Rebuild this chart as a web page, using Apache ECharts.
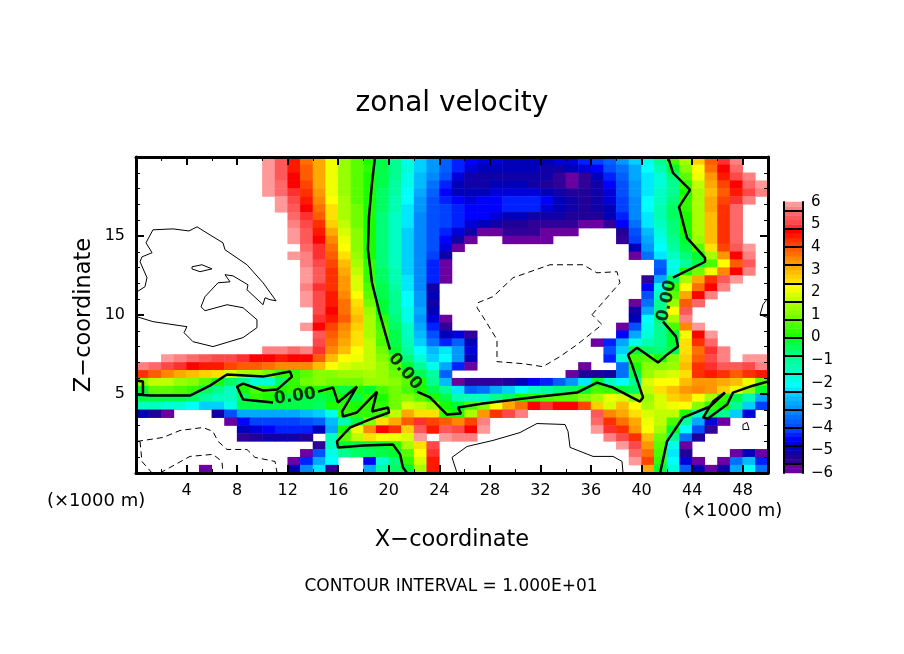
<!DOCTYPE html>
<html>
<head>
<meta charset="utf-8">
<title>zonal velocity</title>
<style>html,body{margin:0;padding:0;background:#fff}#main{width:904px;height:654px}</style>
<script src="https://cdn.jsdelivr.net/npm/echarts@6/dist/echarts.min.js"></script>
</head>
<body>
<div id="main"></div>
<script>
// cell columns (x, km) and rows (z, km, bottom edge of each cell)
var xCells = [0,1,2,3,4,5,6,7,8,9,10,11,12,13,14,15,16,17,18,19,20,21,22,23,24,25,26,27,28,29,30,31,32,33,34,35,36,37,38,39,40,41,42,43,44,45,46,47,48,49];
var zCells = [19.5,19,18.5,18,17.5,17,16.5,16,15.5,15,14.5,14,13.5,13,12.5,12,11.5,11,10.5,10,9.5,9,8.5,8,7.5,7,6.5,6,5.5,5,4.5,4,3.5,3,2.5,2,1.5,1,0.5,0];

// zonal velocity, top row first. 9 / -9 = outside the colour scale (left white)
var uRows = [
[9,9,9,9,9,9,9,9,9,9, 5.8,5.2,4.4,3.7,3,2.1,1.3,.7,.1,-.4, -1,-1.9,-2.6,-3.2,-3.8,-4.3,-4.5,-4.8,-4.8,-4.9, -4.9,-4.9,-4.9,-4.8,-4.7,-4.4,-4.1,-3.7,-3.2,-2.6, -2,-.9,.4,1.5,2.6,3.8,4.8,5.7,9,9],
[9,9,9,9,9,9,9,9,9,9, 5.9,5.3,4.5,3.8,3.1,2.1,1.3,.7,.2,-.3, -.9,-1.8,-2.6,-3.2,-3.8,-4.4,-4.7,-4.9,-5,-5, -5,-5,-5.1,-5.1,-5,-4.8,-4.5,-4,-3.5,-2.9, -2.2,-1.3,-.1,1,2.3,3.6,4.6,5.4,9,9],
[9,9,9,9,9,9,9,9,9,9, 5.9,5.3,4.6,3.9,3,2,1.3,.7,.1,-.4, -1,-1.9,-2.7,-3.3,-4,-4.7,-5.1,-5.2,-5.2,-5.2, -5.2,-5.1,-5.2,-5.6,-5.7,-5.5,-5,-4.4,-3.7,-3, -2.4,-1.7,-.7,.7,2,3.3,4.4,5,5.7,9],
[9,9,9,9,9,9,9,9,9,9, 5.9,5.4,4.7,4,3,2,1.3,.7,.1,-.4, -1.1,-2,-2.8,-3.5,-4.3,-4.9,-5.1,-5.1,-5,-5, -5,-5.1,-5.3,-5.6,-5.7,-5.6,-5.2,-4.6,-3.9,-3.1, -2.4,-1.7,-.9,.3,1.7,3,4,4.7,5.4,5.9],
[9,9,9,9,9,9,9,9,9,9, 5.9,5.5,4.9,4.2,3.2,2.1,1.3,.7,.1,-.5, -1.2,-2.1,-3,-3.8,-4.5,-4.9,-5,-4.9,-4.8,-4.7, -4.7,-4.8,-5,-5.2,-5.3,-5.4,-5.2,-4.7,-4,-3.2, -2.3,-1.6,-.9,.1,1.4,2.8,3.9,4.5,5,5.6],
[9,9,9,9,9,9,9,9,9,9, 9,5.8,5,4.4,3.4,2.3,1.4,.7,.1,-.6, -1.3,-2.2,-3.1,-3.9,-4.3,-4.5,-4.7,-4.6,-4.5,-4.4, -4.3,-4.3,-4.6,-5,-5.2,-5.4,-5.2,-4.8,-4.1,-3.3, -2.2,-1.5,-.7,.2,1.5,3,4.1,4.9,5.7,9],
[9,9,9,9,9,9,9,9,9,9, 9,5.9,5.2,4.6,3.7,2.5,1.5,.8,.1,-.6, -1.4,-2.3,-3.2,-3.9,-4.2,-4.3,-4.5,-4.5,-4.5,-4.3, -4.3,-4.4,-4.7,-5,-5.2,-5.3,-5.2,-4.9,-4.2,-3.3, -2.2,-1.4,-.6,.2,1.5,3,4.3,5.4,9,9],
[9,9,9,9,9,9,9,9,9,9, 9,9,5.5,4.8,3.9,2.4,1.5,.8,.1,-.7, -1.5,-2.4,-3.3,-3.9,-4.1,-4.3,-4.5,-4.6,-4.8,-4.9, -5,-5.1,-5.1,-5.2,-5.3,-5.4,-5.4,-5,-4.3,-3.4, -2.3,-1.4,-.6,.1,1.4,2.8,4.3,5.5,9,9],
[9,9,9,9,9,9,9,9,9,9, 9,9,5.7,5,4.2,2.7,1.6,.9,.1,-.7, -1.5,-2.4,-3.3,-3.9,-4.2,-4.4,-4.7,-4.9,-5.2,-5.3, -5.4,-5.5,-5.5,-5.5,-5.5,-5.7,-5.8,-5.6,-4.6,-3.6, -2.4,-1.5,-.7,.1,1.4,2.8,4.2,5.4,9,9],
[9,9,9,9,9,9,9,9,9,9, 9,9,5.9,5.2,4.4,3.1,1.9,1,.1,-.7, -1.5,-2.5,-3.3,-3.9,-4.3,-4.7,-5.2,-5.8,-5.9,-5.6, -5.6,-5.6,-5.8,-5.9,-5.9,-9,-9,-9,-5.3,-4, -2.7,-1.7,-.8,.1,1.4,2.9,4.3,5.5,9,9],
[9,9,9,9,9,9,9,9,9,9, 9,9,5.9,5.3,4.6,3.4,2.1,1,.1,-.7, -1.5,-2.6,-3.4,-4,-4.6,-5.1,-5.8,-9,-9,-5.9, -5.8,-5.8,-5.9,-9,-9,-9,-9,-9,-5.5,-4.2, -2.9,-1.9,-1,-.1,1.2,2.8,4.3,5.5,9,9],
[9,9,9,9,9,9,9,9,9,9, 9,9,9,5.5,4.8,3.7,2.3,1.1,.1,-.7, -1.5,-2.6,-3.4,-4,-4.8,-5.7,-9,-9,-9,-9, -9,-9,-9,-9,-9,-9,-9,-9,-9,-5, -3.2,-2.1,-1.2,-.4,.7,2.4,4,5.3,5.9,9],
[9,9,9,9,9,9,9,9,9,9, 9,9,5.9,5.6,4.8,3.9,2.5,1.2,.1,-.7, -1.5,-2.6,-3.4,-4.1,-5.2,-9,-9,-9,-9,-9, -9,-9,-9,-9,-9,-9,-9,-9,-9,-5.8, -3.6,-2.4,-1.5,-.8,-.1,1.5,3.3,4.7,5.6,9],
[9,9,9,9,9,9,9,9,9,9, 9,9,9,5.7,5,4.1,2.8,1.4,.2,-.7, -1.5,-2.6,-3.4,-4.3,-5.7,-9,-9,-9,-9,-9, -9,-9,-9,-9,-9,-9,-9,-9,-9,-9, -9,-3.8,-2,-1.2,-.4,.5,2.2,3.9,5.3,9],
[9,9,9,9,9,9,9,9,9,9, 9,9,9,5.9,5.2,4.2,3,1.6,.3,-.6, -1.4,-2.5,-3.4,-4.3,-5.9,-9,-9,-9,-9,-9, -9,-9,-9,-9,-9,-9,-9,-9,-9,-9, -9,-3.9,-1.7,0,.8,2,3.4,4.7,5.7,9],
[9,9,9,9,9,9,9,9,9,9, 9,9,9,5.9,5.3,4.3,3.2,1.8,.3,-.5, -1.3,-2.4,-3.3,-4.4,-5.9,-9,-9,-9,-9,-9, -9,-9,-9,-9,-9,-9,-9,-9,-9,-9, -5.5,-2.9,-.6,1.5,3,4.2,5.2,5.9,9,9],
[9,9,9,9,9,9,9,9,9,9, 9,9,9,5.7,4.9,4.2,3.3,1.9,.4,-.4, -1.2,-2.3,-3.3,-5.2,-9,-9,-9,-9,-9,-9, -9,-9,-9,-9,-9,-9,-9,-9,-9,-9, -4.5,-2,.3,2.3,3.6,4.7,5.7,9,9,9],
[9,9,9,9,9,9,9,9,9,9, 9,9,9,5.8,5,4.4,3.5,2.2,.6,-.3, -1,-2.2,-3.2,-5,-9,-9,-9,-9,-9,-9, -9,-9,-9,-9,-9,-9,-9,-9,-9,-9, -4,-1.5,.6,3,4.6,5.7,9,9,9,9],
[9,9,9,9,9,9,9,9,9,9, 9,9,9,5.9,5,4.5,3.7,2.4,.9,-.2, -1,-2.1,-3.1,-5.2,-9,-9,-9,-9,-9,-9, -9,-9,-9,-9,-9,-9,-9,-9,-9,-5.8, -3.5,-1,1.2,3.9,5.5,9,9,9,9,9],
[9,9,9,9,9,9,9,9,9,9, 9,9,9,9,5,4.6,3.7,2.7,1.2,-.1, -.9,-2,-3,-5,-9,-9,-9,-9,-9,-9, -9,-9,-9,-9,-9,-9,-9,-9,-9,-5.2, -3,-.9,2.2,5.2,9,9,9,9,9,9],
[9,9,9,9,9,9,9,9,9,9, 9,9,9,9,4.8,4.4,3.8,2.8,1.4,.2, -.7,-1.9,-3.1,-4.8,-5.9,-9,-9,-9,-9,-9, -9,-9,-9,-9,-9,-9,-9,-9,-9,-5, -2.2,-.8,1.5,5.6,9,9,9,9,9,9],
[9,9,9,9,9,9,9,9,9,9, 9,9,9,5.9,4.6,4.1,3.5,2.7,1.4,.5, -.5,-1.6,-2.9,-4.4,-5.5,-9,-9,-9,-9,-9, -9,-9,-9,-9,-9,-9,-9,-9,-5.9,-4, -2,-.9,.5,3.5,5.9,9,9,9,9,9],
[9,9,9,9,9,9,9,9,9,9, 9,9,9,9,5.2,3.9,3.2,2.5,1.5,.7, -.4,-1.5,-2.7,-4,-5,-4.8,-5.5,-9,-9,-9, -9,-9,-9,-9,-9,-9,-9,-9,-4.5,-3, -1.8,-1,-.1,2,4.6,5.9,9,9,9,9],
[9,9,9,9,9,9,9,9,9,9, 9,9,9,9,5,3.7,3,2.4,1.6,.4, -.4,-1.4,-2.5,-3.6,-4.3,-3.8,-5,-9,-9,-9, -9,-9,-9,-9,-9,-9,-5.9,-4.3,-3,-2, -1.4,-.9,-.1,2.4,4.2,5.5,9,9,9,9],
[9,9,9,9,9,9,9,9,9,9, 5.7,5.6,5.4,5.6,4.8,3.5,2.8,2.3,1.6,.9, -.1,-1.2,-2.2,-2.8,-2.4,-3.2,-4.8,-9,-9,-9, -9,-9,-9,-9,-9,-9,-9,-4,-2.5,-.1, -.6,-.7,-.3,2.4,3.7,4.8,5.7,9,9,9],
[9,9,5.9,5.6,5.5,5.2,5,5,4.8,4.6, 4.6,4.5,4.6,4.7,3.8,2.9,2.3,2,1.6,1, .4,-.7,-1.8,-2.6,-2.2,-3.2,-4.9,-9,-9,-9, -9,-9,-9,-9,-9,-9,-9,-4.3,-1.8,.4, .7,.1,1,2.7,3.9,5,5.7,9,5.8,5.8],
[5.7,5.4,5,4.9,4.7,4.5,4.4,4.1,3.9,3.8, 3.7,3.5,3.5,3.4,2.9,2.3,1.9,1.7,1.6,1.2, .6,-.2,-1,-1.9,-3,-4.4,-5.7,-9,-9,-9, -9,-9,-9,-9,-9,-5.9,-9,-9,-3.5,0, 1,1,1.3,2.8,4.2,4.8,5.2,5.2,5,5.6],
[4.2,3.8,3.4,3.1,2.9,2.7,2.4,1.9,1.5,1.2, .8,.3,.2,.6,1,1.1,1.2,1.2,1.4,1.3, .9,.2,-.4,-1.2,-3.8,-9,-9,-9,-9,-9, -9,-9,-9,-9,-5.8,-5.4,-5.3,-5.2,-3.5,-.3, 1.3,1.6,1.9,2.5,4.3,4.5,4.3,3.8,4.2,4.4],
[1,1.7,1.6,1.3,1,.6,.1,-.5,-.9,-1.8, -1.7,-.5,.3,.8,1,.9,.8,.9,1.2,1.3, 1.1,.7,.1,-1,-2.8,-5.9,-5.5,-5.5,-5.5,-5.3, -5,-4.6,-4.3,-3.8,-3.2,-2.3,-.2,-1.5,-2.2,-1, 1.8,2.2,2.3,2.8,3.2,3.3,3,2.8,2,.6],
[-.1,.6,.6,.4,.2,-.5,-1,-1.5,.1,.4, .3,0,.2,0,0,.1,-.3,.1,-.2,.5, .9,.5,.1,-.4,-1,-2.4,-3.7,-3.5,-3,-2.6, -2.2,-1.6,-1.2,-.8,-.5,-.1,.4,.3,-.2,-.6, 1.6,2.4,2.8,3.2,3.4,3.2,2.6,2,1,-.1],
[-.3,-.4,-.3,-.4,-.6,-1.2,-1.5,-1.6,-.5,.2, .1,-.2,-.3,-.4,-.3,-.1,.1,-.3,.2,.1, .9,1,.7,.1,-.3,-1.3,-1.5,-1.5,-1,-.5, .1,.3,.5,.6,.7,1,1.4,2,1.8,1, 1.2,1.9,2.7,2.8,2.3,1.4,.2,-.3,-1.3,-3],
[-1.5,-1.6,-1.7,-1.8,-2.2,-2.6,-2.5,-2,-.4,-.3, -.4,-.3,-.3,-.4,-.6,.1,.3,0,.2,.3, .9,1.9,1.7,1.3,0,-.1,.5,1,2.2,3, 3.7,4.7,4.8,4.6,4.6,4,2.7,1.9,2.8,2.3, 1.5,1.8,2.1,2.2,1,.3,.1,-1,-2.6,-4.2],
[-4.9,-5.4,-5.9,-9,-9,-9,-5.2,-4,-2.9,-2.9, -3,-3,-2.9,-2.8,-2.6,-2,.2,.3,.2,.5, 1.7,3.1,2.5,2.4,.2,0,1.5,3.2,4.2,5, 5.6,9,9,9,9,9,5.2,3.5,3,2.4, 1.9,1.7,1.6,.1,-1.5,-.3,-1,-2.5,-4.8,-9],
[-9,-9,-9,-9,-9,-9,-9,-5.8,-4.5,-4.2, -4.1,-4.1,-4.1,-4,-3.7,-2.8,-1.3,-.4,1,2.4, 3.1,3.8,4.9,4.1,3.9,3.5,4,5.7,9,9, 9,9,9,9,9,9,5.5,4.3,3.7,3, 2.1,1.7,.5,-1.2,-3,-4.8,-5.9,-9,-9,-9],
[-9,-9,-9,-9,-9,-9,-9,-9,-5,-4.7, -4.6,-4.4,-4.4,-4.4,-5,-2.9,.1,2,3.5,4.7, 4.2,2.7,5.3,4.5,5.3,5,4.7,5.9,9,9, 9,9,9,9,9,9,5.9,4.9,4.2,3.2, 2.2,1.4,-.1,-2.2,-4,-5.6,-9,-9,-9,-9],
[-9,-9,-9,-9,-9,-9,-9,-9,-5.5,-5.4, -5.2,-5.1,-5.1,-5.3,-9,-1.5,.7,1.6,2.4,2.2, 2.1,1.9,5.8,9,5.9,5.6,5.7,9,9,9, 9,9,9,9,9,9,9,5.6,5,4.3, 2.8,.9,-1,-3.5,-5.3,-9,-9,-9,-9,-9],
[-9,-9,-9,-9,-9,-9,-9,-9,-9,-9, -9,-9,-9,-9,-5.5,-1.5,-.2,-.3,-.2,-.2, .2,1.5,2.5,5,9,9,9,9,9,9, 9,9,9,9,9,9,9,9,5.9,5, 3.2,.7,-1.9,-5.8,-9,-9,-9,-9,-9,-9],
[-9,-9,-9,-9,-9,-9,-9,-9,-9,-9, -9,-9,-9,-5.9,-4,-2,-.9,-.6,-.6,-.4, -.2,.6,2.2,4.9,9,9,9,9,9,9, 9,9,9,9,9,9,9,9,9,5.5, 3.7,.4,-2.3,-5.4,-9,-9,-9,-5.7,-5,-5.8],
[-9,-9,-9,-9,-9,-9,-9,-9,-9,-9, -9,-9,-5.8,-4.3,-3,-2.2,-9,-9,-4.5,-1.8, -.7,.2,1.8,4.5,9,9,9,9,9,9, 9,9,9,9,9,9,9,9,9,5.8, 4,.2,-2.2,-4.8,-5.9,-9,-5.8,-3.5,-2.8,-4.4],
[-9,-9,-9,-9,-9,-5.9,-9,-9,-9,-9, -9,-9,-5,-3.3,-2.4,-5.5,-9,-9,-3,-1.2, -.5,-.1,1.5,4.5,9,9,9,9,9,9, 9,9,9,9,9,9,9,9,9,9, 3.1,-.1,-1.8,-3.7,-4.9,-5.9,-5.2,-2.9,-2.1,-3.6]
];

// contour lines in data units [x, z]
var zeroTop = [[18.91,20],[18.67,18.36],[18.43,16.21],[18.35,14.13],[18.67,12.04],[19.3,10.02],[20.09,7.81]];
var zeroMid = [[22.23,5.15],[23.26,4.78],[24.6,3.7],[25.71,3.77],[25.47,4.14],[27.45,4.4],[31.96,4.84],[34.89,5.09],[36.47,5.72],[37.74,5.41],[39.87,4.52],[40.11,4.78],[39.24,6.86],[38.92,7.49],[39.64,7.93],[40.43,7.49],[41.3,6.99],[42.01,7.49],[42.88,8],[42.72,8.63],[41.69,9.58]];
var zeroRight = [[42.48,12.36],[45.02,13.37],[45.02,13.62],[43.59,14.88],[42.96,16.84],[43.83,17.92],[42.48,18.99],[42.09,20]];
var zeroLeft = [[0,5.85],[.55,5.79],[.55,4.97],[0,4.97],[1.11,4.9],[4.27,4.9],[5.85,5.53],[7.2,6.23],[10.05,6.1],[12.18,6.42],[12.34,6.1],[11.16,5.28],[10.05,5.22],[8.47,5.66],[7.99,5.47],[8.47,4.65],[10.84,4.46]];
var zeroFingers = [[14.4,5.15],[15.59,5.41],[15.98,4.46],[17.48,5.47],[16.3,3.89],[16.38,3.58],[17.48,3.83],[19.07,5.15],[18.67,3.89],[19.94,4.14],[20.02,3.83],[18.51,3.39],[16.93,2.88],[15.9,2],[15.98,1.62],[17.96,1.74],[20.33,1.81],[20.89,1.18],[21.12,.35],[21.44,0]];
var zeroLow = [[41.46,0],[42.01,2],[43.28,3.51],[45.41,4.21],[46.6,5.09],[45.65,4.52],[44.86,3.51],[45.25,3.45],[46.76,4.33],[47.23,5.09],[48.58,5.47],[50,5.79]];
var posLeft = [[.08,11.47],[.71,11.79],[.87,12.36],[.32,13.37],[.47,13.68],[1.27,13.94],[.79,14.57],[1.34,15.39],[2.93,15.45],[4.19,15.32],[4.83,15.58],[5.85,15.07],[6.88,14.57],[7.04,14.13],[8.78,13.18],[10.05,12.04],[11.08,10.9],[10.6,10.97],[10.21,11.09],[10.05,10.65],[8.78,11.6],[8.86,11.91],[7.67,12.48],[7.04,12.55],[7.44,12.1],[6.49,12.04],[5.46,11.16],[5.14,10.52],[5.46,10.27],[7.2,10.65],[8.47,10.46],[9.57,9.7],[9.57,9.2],[8.47,8.57],[6.09,8],[4.51,8.31],[3.8,8.88],[4.03,9.26],[2.93,9.39],[1.34,9.58],[.08,9.89]];
var posLoop = [[4.43,13.05],[5.22,13.18],[6.01,12.92],[5.06,12.74],[4.43,12.92],[4.43,13.05]];
var posLow = [[38.53,0],[38.45,.73],[37.74,1.05],[36.16,1.05],[34.34,1.62],[34.18,2.63],[33.94,3.07],[31.72,3.13],[30.38,2.56],[28.24,2.06],[26.19,1.68],[25,.99],[25.4,0]];
var posEdge = [[50,11.09],[49.6,10.65],[49.37,10.02],[50,9.83]];
var negHole = [[36.08,10.02],[38.29,12.04],[38.05,12.74],[36.47,12.67],[35.36,13.18],[32.75,13.18],[29.83,12.36],[28.24,11.16],[27.06,10.78],[26.98,10.46],[27.45,9.89],[28.56,8.44],[28.56,7.05],[30.62,6.92],[32.2,6.73],[33.54,7.37],[34.89,8.12],[36.87,9.39],[36.08,10.02]];
var negLow1 = [[.08,2],[2.14,2.25],[3.48,2.69],[5.3,2.88],[6.09,2.63],[6.49,2],[7.2,1.49],[8.78,1.49],[9.41,.99],[11,.73],[11.16,0]];
var negLow2 = [[1.9,0],[4.27,1.05],[6.09,1.18],[6.8,.73],[6.88,0]];
var negLow3 = [[.32,2],[.47,.73],[1.27,0]];
var negSmall = [[48.02,3.07],[48.34,3.2],[48.5,2.75],[48.02,2.75],[48.02,3.07]];
// contour labels: x, z, rotation
var zeroLabels = [[12.58,4.84,8],[21.28,6.42,-50],[42,10.9,78]];

// colour bar levels (bin centres) and box edges
var barLevels = [-5.9,-5.7,-5.5,-5.3,-5.1,-4.9,-4.7,-4.5,-4.3,-4.1,-3.9,-3.7,-3.5,-3.3,-3.1,-2.9,-2.7,-2.5,-2.3,-2.1,-1.9,-1.7,-1.5,-1.3,-1.1,-.9,-.7,-.5,-.3,-.1,.1,.3,.5,.7,.9,1.1,1.3,1.5,1.7,1.9,2.1,2.3,2.5,2.7,2.9,3.1,3.3,3.5,3.7,3.9,4.1,4.3,4.5,4.7,4.9,5.1,5.3,5.5,5.7,5.9];
var barEdges = [-5.6,-4.8,-4,-3.2,-2.4,-1.6,-.8,0,.8,1.6,2.4,3.2,4,4.8,5.6];
var levelColors = ['#6a00a0','#6a00a0','#300098','#200098','#1000a8','#0000b8','#0000d8','#0000ff','#0020ff','#0040ff',
  '#0050ff','#0060ff','#0070ff','#0088ff','#0098ff','#00a8ff','#00bcff','#00d0ff','#00e8ff','#00ffff',
  '#00ffe8','#00ffd8','#00ffc0','#00ffb0','#00ffa0','#00ff90','#00ff78','#00ff60','#00ff48','#00ff30',
  '#18ff00','#30ff00','#48ff00','#58ff00','#70ff00','#88ff00','#98ff00','#a8ff00','#c0ff00','#d8ff00',
  '#f0ff00','#ffff00','#ffe000','#ffd000','#ffbc00','#ffa800','#ff9800','#ff8800','#ff7000','#ff5c00',
  '#ff4400','#ff3000','#ff1800','#ff0000','#ff3030','#ff4848','#ff5858','#ff6868','#ff8080','#ff9898'];

var font = '"DejaVu Sans"';

var cells = [];
uRows.forEach(function (row, r) {
  row.forEach(function (v, c) {
    if (Math.abs(v) <= 6) cells.push([c, r, v]);
  });
});
var barCells = barLevels.map(function (v, i) { return [0, i, v]; });
var pieces = barLevels.map(function (v, i) {
  return { gte: v - 0.1001, lt: v + 0.0999, color: levelColors[i] };
});

function frameAxis(pos, idx, opts) {
  var a = {
    type: 'value', gridIndex: idx, position: pos, z: 10, splitLine: { show: false },
    axisLine: { show: true, onZero: false, lineStyle: { color: '#000', width: 3 } },
    axisTick: { show: true, inside: true, length: 8, lineStyle: { color: '#000', width: 2 } },
    minorTick: { show: true, length: 4, lineStyle: { color: '#000', width: 1 } },
    axisLabel: { show: false }
  };
  return Object.assign(a, opts);
}

function contour(data, width, dashed) {
  return {
    type: 'line', xAxisIndex: 1, yAxisIndex: 1, data: data, z: 4, showSymbol: false, symbol: 'none',
    lineStyle: { color: '#000', width: width, type: dashed ? [6, 4] : 'solid' }, silent: true
  };
}

function plotTitle(text, left, top, size, align) {
  return {
    text: text, left: left, top: top, padding: 0, textAlign: align,
    textStyle: { fontFamily: font, fontWeight: 'normal', fontSize: size, color: '#000' }
  };
}

var xLabels = {
  show: true, color: '#000', fontFamily: font, fontSize: 16, margin: 10, showMinLabel: false, showMaxLabel: false
};
var zLabels = {
  show: true, color: '#000', fontFamily: font, fontSize: 16, margin: 11, showMinLabel: false, showMaxLabel: false
};

var option = {
  backgroundColor: '#fff',
  animation: false,
  title: [
    plotTitle('zonal velocity', 452, 90, 28, 'center'),
    plotTitle('X\u2212coordinate', 452, 529, 22.5, 'center'),
    plotTitle('CONTOUR INTERVAL = 1.000E+01', 451, 578, 17, 'center'),
    plotTitle('(\u00d71000 m)', 47, 492, 18, 'left'),
    plotTitle('(\u00d71000 m)', 684, 502, 18, 'left')
  ],
  graphic: [{
    type: 'text', x: 84, y: 315, rotation: Math.PI / 2, silent: true,
    style: { text: 'Z\u2212coordinate', fill: '#000', font: '22.5px ' + font, textAlign: 'center', textVerticalAlign: 'middle' }
  }],
  grid: [
    { left: 136, top: 157, width: 632, height: 316 },
    { left: 136, top: 157, width: 632, height: 316 },
    { left: 784, top: 202, width: 19, height: 271 },
    { left: 784, top: 202, width: 19, height: 271 }
  ],
  visualMap: {
    show: false, type: 'piecewise', dimension: 2, seriesIndex: [0, 1], pieces: pieces,
    outOfRange: { color: 'rgba(0,0,0,0)' }
  },
  xAxis: [
    { type: 'category', gridIndex: 0, data: xCells, show: false },
    frameAxis('bottom', 1, { min: 0, max: 50, interval: 4, minorTick: { show: true, splitNumber: 2, length: 4, lineStyle: { color: '#000', width: 1 } }, axisLabel: xLabels }),
    frameAxis('top', 1, { min: 0, max: 50, interval: 4, minorTick: { show: true, splitNumber: 2, length: 4, lineStyle: { color: '#000', width: 1 } } }),
    { type: 'category', gridIndex: 2, data: [''], show: false },
    { type: 'value', gridIndex: 3, min: 0, max: 1, position: 'bottom', z: 10, splitLine: { show: false }, axisTick: { show: false }, axisLabel: { show: false }, axisLine: { show: true, lineStyle: { color: '#000', width: 2 } } },
    { type: 'value', gridIndex: 3, min: 0, max: 1, position: 'top', z: 10, splitLine: { show: false }, axisTick: { show: false }, axisLabel: { show: false }, axisLine: { show: true, lineStyle: { color: '#000', width: 2 } } }
  ],
  yAxis: [
    { type: 'category', gridIndex: 0, data: zCells, inverse: true, show: false },
    frameAxis('left', 1, { min: 0, max: 20, interval: 5, minorTick: { show: true, splitNumber: 5, length: 4, lineStyle: { color: '#000', width: 1 } }, axisLabel: zLabels }),
    frameAxis('right', 1, { min: 0, max: 20, interval: 5, minorTick: { show: true, splitNumber: 5, length: 4, lineStyle: { color: '#000', width: 1 } } }),
    { type: 'category', gridIndex: 2, data: barLevels, show: false },
    {
      type: 'value', gridIndex: 3, min: -6, max: 6, interval: 1, position: 'right', z: 10, splitLine: { show: false }, axisTick: { show: false },
      axisLine: { show: true, onZero: false, lineStyle: { color: '#000', width: 2 } },
      axisLabel: { color: '#000', fontFamily: font, fontSize: 15, margin: 8, formatter: function (v) { return String(v).replace('-', '\u2212'); } }
    },
    { type: 'value', gridIndex: 3, min: -6, max: 6, position: 'left', z: 10, splitLine: { show: false }, axisTick: { show: false }, axisLabel: { show: false }, axisLine: { show: true, onZero: false, lineStyle: { color: '#000', width: 2 } } }
  ],
  series: [
    { type: 'heatmap', xAxisIndex: 0, yAxisIndex: 0, data: cells, z: 1, progressive: 0, silent: true },
    { type: 'heatmap', xAxisIndex: 3, yAxisIndex: 3, data: barCells, z: 1, progressive: 0, silent: true },
    {
      type: 'line', xAxisIndex: 4, yAxisIndex: 4, data: [], z: 5, silent: true,
      markLine: {
        silent: true, symbol: 'none', animation: false, label: { show: false },
        lineStyle: { color: '#000', width: 2, type: 'solid' },
        data: barEdges.map(function (v) { return { yAxis: v }; })
      }
    },
    contour(zeroTop, 2.5), contour(zeroMid, 2.5), contour(zeroRight, 2.5),
    contour(zeroLeft, 2.5), contour(zeroFingers, 2.5), contour(zeroLow, 2.5),
    contour(posLeft, 1), contour(posLoop, 1), contour(posLow, 1), contour(posEdge, 1),
    contour(negHole, 1, true), contour(negLow1, 1, true), contour(negLow2, 1, true), contour(negLow3, 1, true), contour(negSmall, 1),
    {
      type: 'scatter', xAxisIndex: 1, yAxisIndex: 1, z: 6, symbolSize: 0, silent: true,
      data: zeroLabels.map(function (p) {
        return {
          value: [p[0], p[1]],
          label: { show: true, position: 'inside', formatter: '0.00', rotate: p[2], color: '#000', fontFamily: font, fontSize: 17, fontWeight: 'bold' }
        };
      })
    }
  ]
};

var chart = echarts.init(document.getElementById('main'));
chart.setOption(option);
</script>
</body>
</html>
